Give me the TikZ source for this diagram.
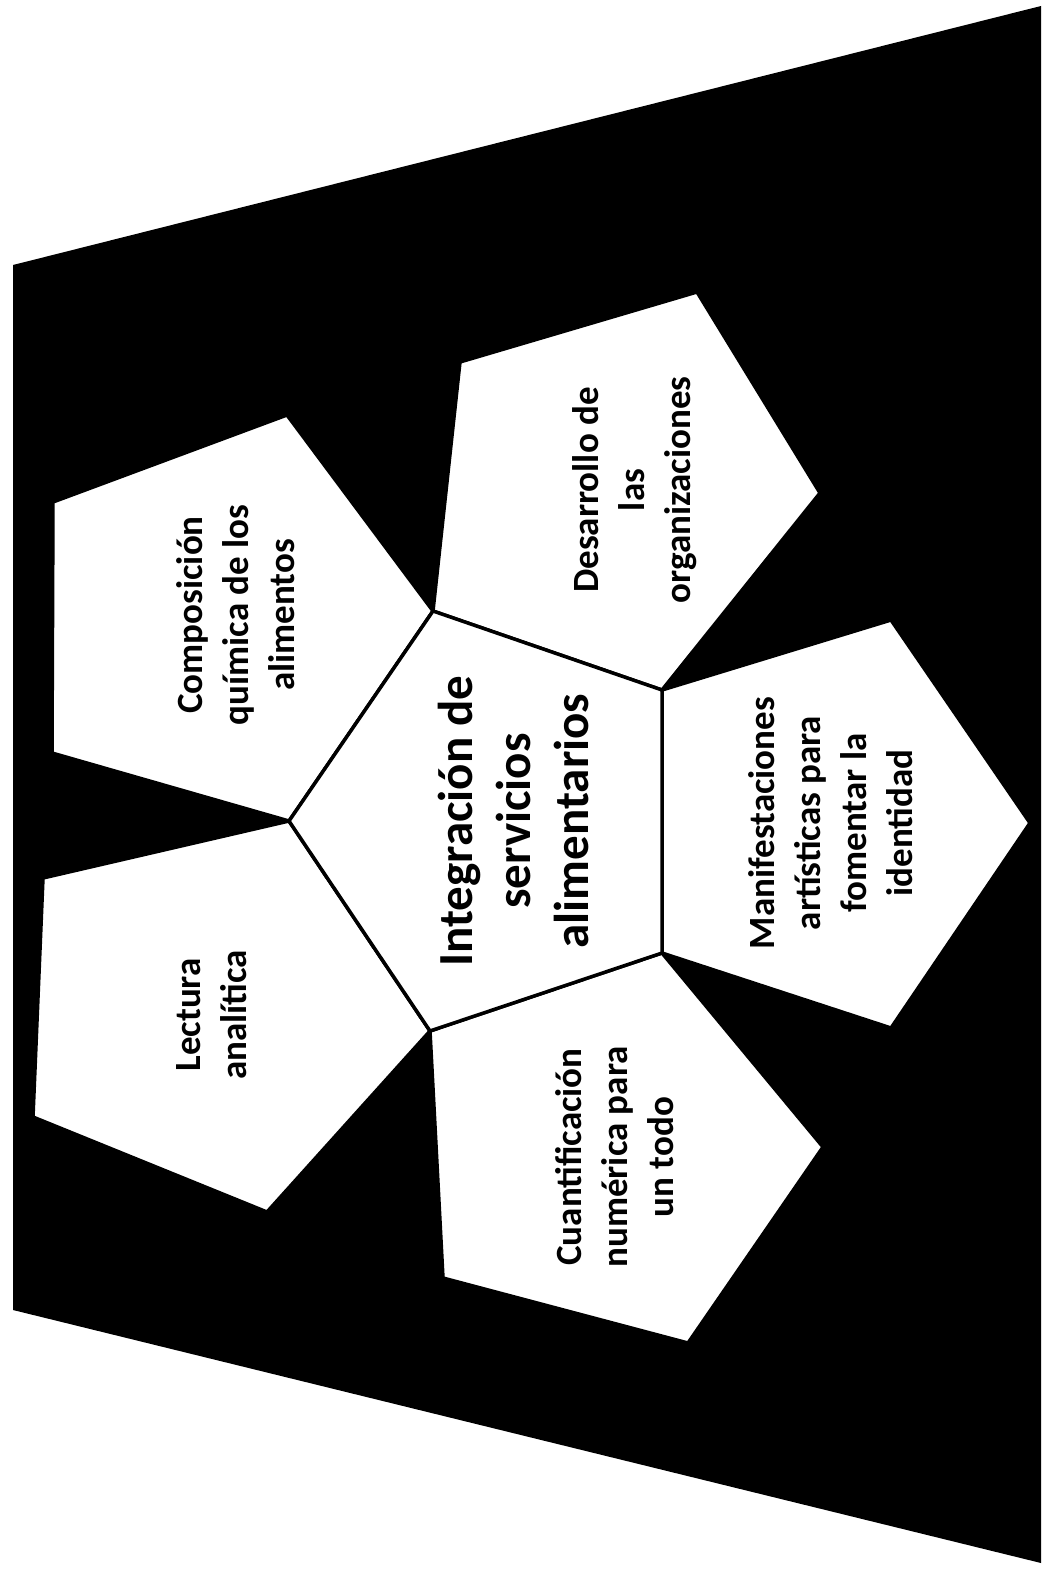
\documentclass[tikz,border=0pt]{standalone}
\usepackage{fontspec}
\setmainfont{Carlito}
\begin{document}
\begin{tikzpicture}[x=1pt,y=-1pt,
  pent/.style={fill=white,draw=black,line width=3.5pt,line join=miter},
  outtext/.style={rotate=90,align=center,font=\bfseries\fontsize{37}{46}\selectfont,inner sep=0pt},
  midtext/.style={rotate=90,align=center,font=\bfseries\fontsize{49}{58}\selectfont,inner sep=0pt}]
\useasboundingbox (0,0) rectangle (1041,1570);
\fill[white] (0,0) rectangle (1041,1570);
% background
\fill[black] (13,265) -- (1041,6) -- (1041,1563) -- (13,1310) -- cycle;
% central vertices
\coordinate (c1) at (433,611);
\coordinate (c2) at (662,690);
\coordinate (c3) at (662,953);
\coordinate (c4) at (430,1031);
\coordinate (c5) at (289,821);
% outer pentagons
\draw[pent] (53,502) -- (287,415) -- (c1) -- (c5) -- (52,753) -- cycle;
\draw[pent] (460,362) -- (697,292) -- (820,493) -- (c2) -- (c1) -- cycle;
\draw[pent] (c2) -- (891,620) -- (1030,823) -- (891,1028) -- (c3) -- cycle;
\draw[pent] (c4) -- (c3) -- (823,1147) -- (688,1343) -- (443,1278) -- cycle;
\draw[pent] (43,878) -- (c5) -- (c4) -- (267,1212) -- (33,1117) -- cycle;
\draw[pent] (c1) -- (c2) -- (c3) -- (c4) -- (c5) -- cycle;
% texts
\node[midtext] (mid) at (513,821) {Integración de\\servicios\\alimentarios};
\node[outtext] (comp) at (236,615) {Composición\\química de los\\alimentos};
\node[outtext] (des) at (635,490) {Desarrollo de\\las\\organizaciones};
\node[outtext] (lec) at (212,1015) {Lectura\\analítica};
\node[outtext] (man) at (831,823) {Manifestaciones\\artísticas para\\fomentar la\\identidad};
\node[outtext] (cua) at (615,1157) {Cuantificación\\numérica para\\un todo};
\end{tikzpicture}
\end{document}
